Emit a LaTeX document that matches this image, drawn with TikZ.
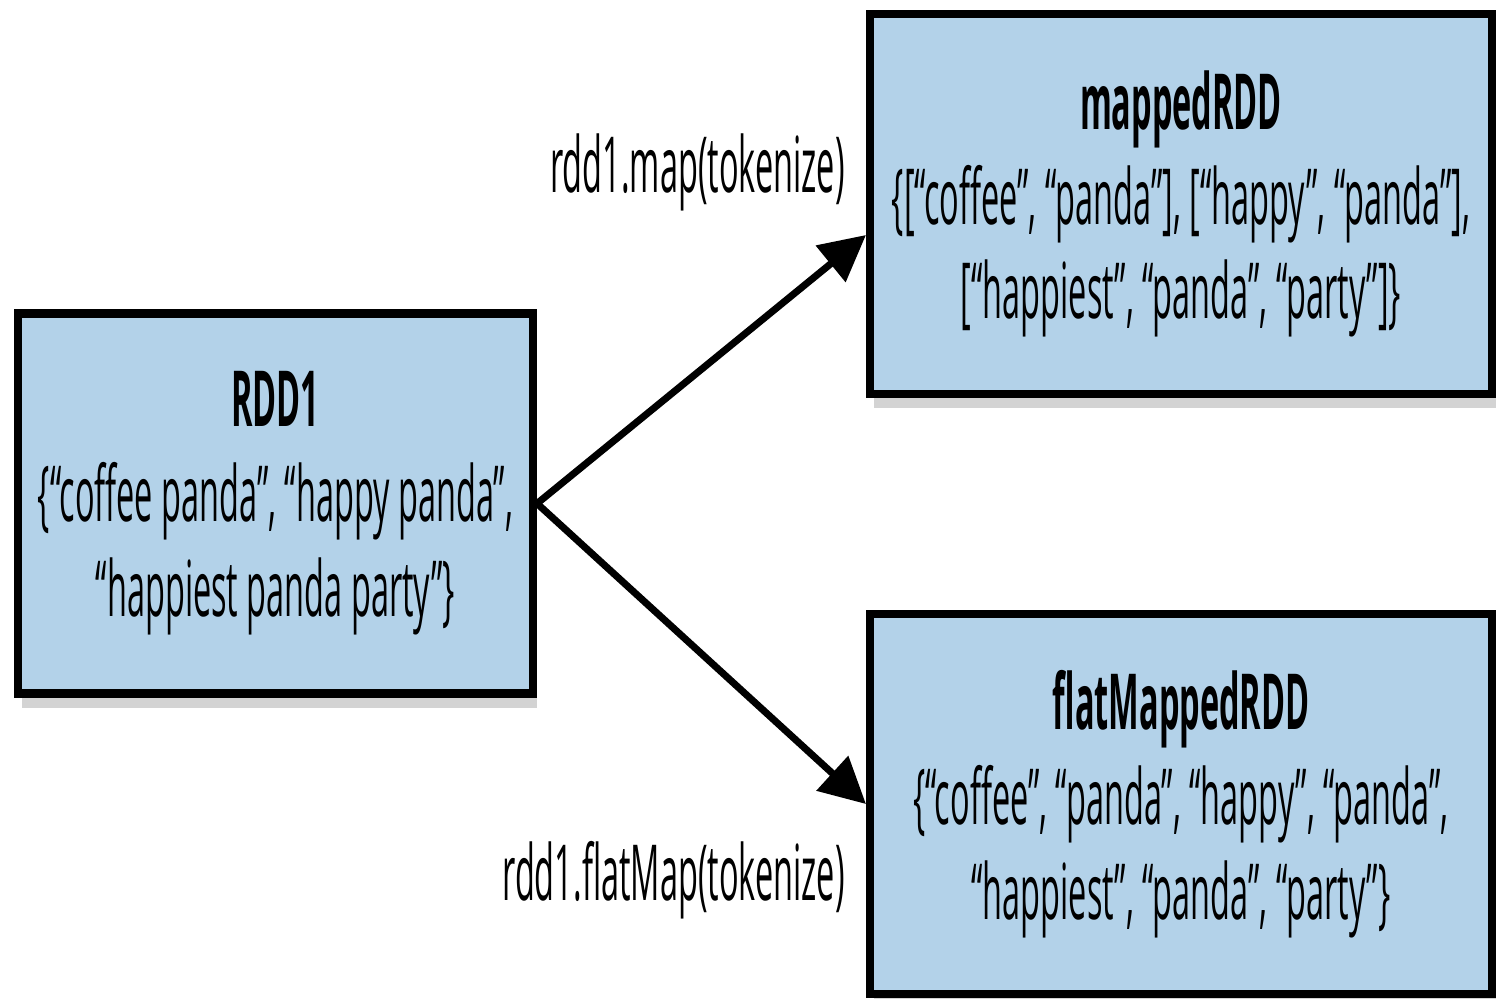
\documentclass[tikz,border=0pt]{standalone}
\usepackage{fontspec}
\setmainfont{Open Sans}[FakeStretch=0.42]
\usetikzlibrary{arrows.meta,shadows}
\definecolor{rddblue}{RGB}{179,210,233}

\begin{document}
\begin{tikzpicture}[>={Triangle[length=13pt,width=13pt]},
  every node/.style={font=\fontsize{22}{27}\selectfont},
  rddbox/.style={draw=black, line width=2.3pt, fill=rddblue, align=center, minimum height=3.8cm,
    inner xsep=0pt, drop shadow={shadow xshift=0.04cm, shadow yshift=-0.14cm, opacity=0.35}},
  oplabel/.style={anchor=east}]
\useasboundingbox (0,0) rectangle (14.96,-9.98);
\node[rddbox, minimum width=5.15cm] (rdd1) at (2.755,-5.035)
  {\textbf{RDD1}\\\{“coffee panda”, “happy panda”,\\“happiest panda party”\}};
\node[rddbox, minimum width=6.22cm] (mapped) at (11.81,-2.04)
  {\textbf{mappedRDD}\\\{[“coffee”, “panda”], [“happy”, “panda”],\\{[}“happiest”, “panda”, “party”]\}};
\node[rddbox, minimum width=6.22cm] (flat) at (11.81,-8.04)
  {\textbf{flatMappedRDD}\\\{“coffee”, “panda”, “happy”, “panda”,\\“happiest”, “panda”, “party”\}};
\draw[line width=2pt,->] (rdd1.east) -- ([yshift=-0.31cm]mapped.west);
\draw[line width=2pt,->] (rdd1.east) -- (flat.west);
%\draw[red] (rdd1.east) -- (mapped.west);
\node[oplabel] (maplabel) at (8.57,-1.72) {rdd1.map(tokenize)};
\node[oplabel] (flatlabel) at (8.57,-8.80) {rdd1.flatMap(tokenize)};
\end{tikzpicture}
\end{document}
